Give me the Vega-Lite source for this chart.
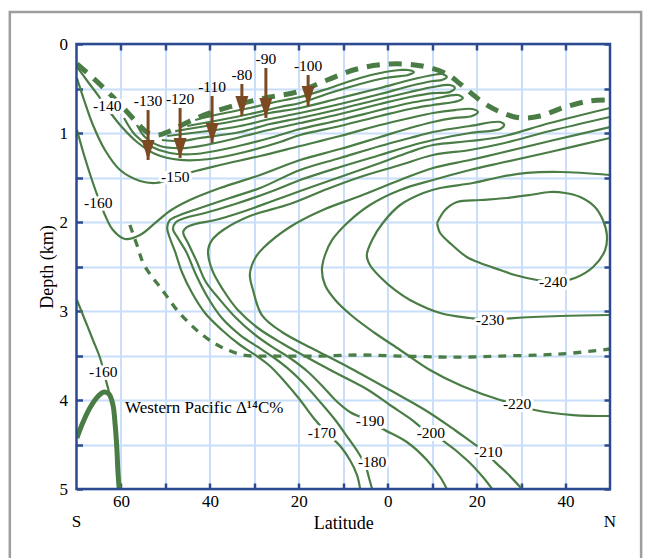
{
  "$schema": "https://vega.github.io/schema/vega-lite/v6.json",
  "width": 533.5,
  "height": 445,
  "autosize": "none",
  "padding": {"left": 76.5, "top": 44, "right": 40, "bottom": 69},
  "background": "white",
  "config": {"view": {"stroke": null}, "font": "Liberation Serif"},
  "datasets": {
    "contours": [
      {"c":"p1","x":-69.9,"y":0.258},{"c":"p1","x":-67.4,"y":0.427},{"c":"p1","x":-64.7,"y":0.607},{"c":"p1","x":-62.5,"y":0.764},{"c":"p1","x":-59.8,"y":0.933},{"c":"p1","x":-56.4,"y":1.101},{"c":"p1","x":-52.3,"y":1.236},{"c":"p1","x":-46.7,"y":1.303},{"c":"p1","x":-40.0,"y":1.292},{"c":"p1","x":-32.1,"y":1.213},{"c":"p1","x":-24.2,"y":1.101},{"c":"p1","x":-19.7,"y":1.022},{"c":"p1","x":-10.7,"y":0.921},{"c":"p1","x":-1.7,"y":0.809},{"c":"p1","x":5.0,"y":0.730},{"c":"p1","x":10.2,"y":0.685},{"c":"p1","x":15.8,"y":0.640},{"c":"p1","x":16.9,"y":0.607},{"c":"p1","x":15.8,"y":0.573},{"c":"p1","x":10.2,"y":0.618},{"c":"p1","x":5.0,"y":0.663},{"c":"p1","x":-1.7,"y":0.742},{"c":"p1","x":-10.7,"y":0.854},{"c":"p1","x":-19.7,"y":0.955},{"c":"p1","x":-26.5,"y":1.056},{"c":"p1","x":-35.5,"y":1.169},{"c":"p1","x":-43.3,"y":1.236},{"c":"p1","x":-49.0,"y":1.225},{"c":"p1","x":-53.5,"y":1.146},{"c":"p1","x":-56.8,"y":1.022},{"c":"p1","x":-59.3,"y":0.831},
      {"c":"p2","x":-56.4,"y":0.910},{"c":"p2","x":-54.6,"y":1.045},{"c":"p2","x":-51.2,"y":1.146},{"c":"p2","x":-45.6,"y":1.169},{"c":"p2","x":-37.7,"y":1.101},{"c":"p2","x":-28.7,"y":0.989},{"c":"p2","x":-19.7,"y":0.888},{"c":"p2","x":-10.7,"y":0.787},{"c":"p2","x":-1.7,"y":0.674},{"c":"p2","x":5.0,"y":0.596},{"c":"p2","x":10.2,"y":0.551},{"c":"p2","x":14.0,"y":0.539},{"c":"p2","x":15.1,"y":0.494},{"c":"p2","x":14.0,"y":0.461},{"c":"p2","x":10.2,"y":0.483},{"c":"p2","x":5.0,"y":0.539},{"c":"p2","x":-1.7,"y":0.618},{"c":"p2","x":-10.7,"y":0.730},{"c":"p2","x":-19.7,"y":0.831},{"c":"p2","x":-26.5,"y":0.899},{"c":"p2","x":-33.2,"y":0.989},{"c":"p2","x":-42.2,"y":1.056},{"c":"p2","x":-46.7,"y":1.090},{"c":"p2","x":-50.8,"y":1.079},
      {"c":"p3","x":-49.6,"y":1.034},{"c":"p3","x":-42.2,"y":0.989},{"c":"p3","x":-33.2,"y":0.921},{"c":"p3","x":-26.5,"y":0.843},{"c":"p3","x":-19.7,"y":0.775},{"c":"p3","x":-10.7,"y":0.674},{"c":"p3","x":-1.7,"y":0.562},{"c":"p3","x":5.0,"y":0.472},{"c":"p3","x":10.2,"y":0.416},{"c":"p3","x":12.2,"y":0.404},{"c":"p3","x":13.3,"y":0.371},{"c":"p3","x":12.2,"y":0.337},{"c":"p3","x":10.2,"y":0.348},{"c":"p3","x":5.0,"y":0.404},{"c":"p3","x":-1.7,"y":0.494},{"c":"p3","x":-10.7,"y":0.607},{"c":"p3","x":-19.7,"y":0.719},{"c":"p3","x":-26.5,"y":0.775},{"c":"p3","x":-33.2,"y":0.854},{"c":"p3","x":-42.2,"y":0.933},{"c":"p3","x":-47.8,"y":0.978},
      {"c":"p4","x":-45.1,"y":0.921},{"c":"p4","x":-37.7,"y":0.854},{"c":"p4","x":-31.0,"y":0.787},{"c":"p4","x":-24.2,"y":0.708},{"c":"p4","x":-19.7,"y":0.663},{"c":"p4","x":-13.0,"y":0.551},{"c":"p4","x":-6.2,"y":0.449},{"c":"p4","x":-0.6,"y":0.382},{"c":"p4","x":2.8,"y":0.360},{"c":"p4","x":4.6,"y":0.348},{"c":"p4","x":5.9,"y":0.315},{"c":"p4","x":4.6,"y":0.292},{"c":"p4","x":2.8,"y":0.292},{"c":"p4","x":-0.6,"y":0.315},{"c":"p4","x":-6.2,"y":0.382},{"c":"p4","x":-13.0,"y":0.494},{"c":"p4","x":-19.7,"y":0.596},{"c":"p4","x":-24.2,"y":0.640},{"c":"p4","x":-31.0,"y":0.719},{"c":"p4","x":-37.7,"y":0.787},{"c":"p4","x":-43.3,"y":0.854},
      {"c":"p5","x":-69.9,"y":0.382},{"c":"p5","x":-68.3,"y":0.629},{"c":"p5","x":-66.3,"y":0.910},{"c":"p5","x":-63.6,"y":1.191},{"c":"p5","x":-60.2,"y":1.416},{"c":"p5","x":-55.7,"y":1.539},{"c":"p5","x":-52.3,"y":1.562},{"c":"p5","x":-50.1,"y":1.539},{"c":"p5","x":-47.2,"y":1.494},{"c":"p5","x":-44.0,"y":1.438},{"c":"p5","x":-37.7,"y":1.360},{"c":"p5","x":-28.7,"y":1.258},{"c":"p5","x":-19.7,"y":1.146},{"c":"p5","x":-10.7,"y":1.034},{"c":"p5","x":-1.7,"y":0.910},{"c":"p5","x":5.0,"y":0.831},{"c":"p5","x":10.2,"y":0.775},{"c":"p5","x":15.1,"y":0.742},{"c":"p5","x":19.0,"y":0.730},{"c":"p5","x":20.3,"y":0.764},{"c":"p5","x":19.0,"y":0.809},{"c":"p5","x":15.1,"y":0.831},{"c":"p5","x":10.2,"y":0.876},{"c":"p5","x":5.0,"y":0.944},{"c":"p5","x":-1.7,"y":1.045},{"c":"p5","x":-10.7,"y":1.180},{"c":"p5","x":-19.7,"y":1.303},{"c":"p5","x":-28.7,"y":1.472},{"c":"p5","x":-37.7,"y":1.618},{"c":"p5","x":-44.5,"y":1.753},{"c":"p5","x":-49.0,"y":1.876},{"c":"p5","x":-52.3,"y":2.011},{"c":"p5","x":-55.7,"y":2.146},{"c":"p5","x":-59.1,"y":2.191},{"c":"p5","x":-61.8,"y":2.090},{"c":"p5","x":-63.6,"y":1.921},{"c":"p5","x":-65.1,"y":1.730},{"c":"p5","x":-66.3,"y":1.562},{"c":"p5","x":-68.1,"y":1.281},{"c":"p5","x":-69.9,"y":0.966},
      {"c":"p6","x":-6.2,"y":5.0},{"c":"p6","x":-6.9,"y":4.843},{"c":"p6","x":-8.5,"y":4.674},{"c":"p6","x":-10.7,"y":4.517},{"c":"p6","x":-13.0,"y":4.404},{"c":"p6","x":-16.3,"y":4.225},{"c":"p6","x":-19.7,"y":4.000},{"c":"p6","x":-23.1,"y":3.798},{"c":"p6","x":-26.5,"y":3.618},{"c":"p6","x":-29.8,"y":3.494},{"c":"p6","x":-33.2,"y":3.382},{"c":"p6","x":-37.3,"y":3.213},{"c":"p6","x":-41.1,"y":3.022},{"c":"p6","x":-44.0,"y":2.798},{"c":"p6","x":-46.3,"y":2.562},{"c":"p6","x":-47.8,"y":2.337},{"c":"p6","x":-49.0,"y":2.180},{"c":"p6","x":-49.6,"y":2.067},{"c":"p6","x":-49.0,"y":1.978},{"c":"p6","x":-46.7,"y":1.921},{"c":"p6","x":-42.2,"y":1.843},{"c":"p6","x":-35.5,"y":1.730},{"c":"p6","x":-28.7,"y":1.618},{"c":"p6","x":-19.7,"y":1.416},{"c":"p6","x":-10.7,"y":1.281},{"c":"p6","x":-1.7,"y":1.146},{"c":"p6","x":5.0,"y":1.056},{"c":"p6","x":10.2,"y":0.989},{"c":"p6","x":18.5,"y":0.921},{"c":"p6","x":25.3,"y":0.876},{"c":"p6","x":26.2,"y":0.910},{"c":"p6","x":25.3,"y":0.955},{"c":"p6","x":18.5,"y":1.000},{"c":"p6","x":10.2,"y":1.079},{"c":"p6","x":5.0,"y":1.146},{"c":"p6","x":-1.7,"y":1.247},{"c":"p6","x":-10.7,"y":1.382},{"c":"p6","x":-19.7,"y":1.528},{"c":"p6","x":-26.5,"y":1.663},{"c":"p6","x":-34.3,"y":1.798},{"c":"p6","x":-41.1,"y":1.899},{"c":"p6","x":-45.6,"y":1.955},{"c":"p6","x":-47.6,"y":2.000},{"c":"p6","x":-48.3,"y":2.079},{"c":"p6","x":-47.2,"y":2.180},{"c":"p6","x":-45.3,"y":2.337},{"c":"p6","x":-43.1,"y":2.596},{"c":"p6","x":-40.4,"y":2.854},{"c":"p6","x":-37.3,"y":3.079},{"c":"p6","x":-33.2,"y":3.270},{"c":"p6","x":-29.2,"y":3.404},{"c":"p6","x":-25.8,"y":3.517},{"c":"p6","x":-22.6,"y":3.640},{"c":"p6","x":-19.0,"y":3.809},{"c":"p6","x":-15.2,"y":4.022},{"c":"p6","x":-11.8,"y":4.225},{"c":"p6","x":-8.9,"y":4.427},{"c":"p6","x":-6.7,"y":4.584},{"c":"p6","x":-4.9,"y":4.753},{"c":"p6","x":-4.2,"y":4.876},{"c":"p6","x":-3.5,"y":5.0},
      {"c":"c190","x":13.3,"y":5.0},{"c":"c190","x":11.8,"y":4.865},{"c":"c190","x":8.8,"y":4.674},{"c":"c190","x":4.3,"y":4.472},{"c":"c190","x":-1.1,"y":4.326},{"c":"c190","x":-4.0,"y":4.236},{"c":"c190","x":-8.5,"y":4.135},{"c":"c190","x":-11.8,"y":4.000},{"c":"c190","x":-14.3,"y":3.865},{"c":"c190","x":-17.9,"y":3.685},{"c":"c190","x":-22.0,"y":3.528},{"c":"c190","x":-26.0,"y":3.404},{"c":"c190","x":-30.1,"y":3.258},{"c":"c190","x":-34.1,"y":3.079},{"c":"c190","x":-37.7,"y":2.876},{"c":"c190","x":-40.9,"y":2.674},{"c":"c190","x":-42.9,"y":2.449},{"c":"c190","x":-44.7,"y":2.258},{"c":"c190","x":-46.0,"y":2.112},{"c":"c190","x":-45.1,"y":2.056},{"c":"c190","x":-43.3,"y":2.022},{"c":"c190","x":-38.8,"y":1.978},{"c":"c190","x":-32.1,"y":1.876},{"c":"c190","x":-25.3,"y":1.753},{"c":"c190","x":-19.7,"y":1.652},{"c":"c190","x":-10.7,"y":1.494},{"c":"c190","x":-1.7,"y":1.337},{"c":"c190","x":5.0,"y":1.213},{"c":"c190","x":10.2,"y":1.135},{"c":"c190","x":18.5,"y":1.090},{"c":"c190","x":25.3,"y":1.045},{"c":"c190","x":36.5,"y":0.888},{"c":"c190","x":50.0,"y":0.719},
      {"c":"c200","x":23.5,"y":5.0},{"c":"c200","x":21.4,"y":4.865},{"c":"c200","x":17.8,"y":4.674},{"c":"c200","x":12.2,"y":4.449},{"c":"c200","x":9.7,"y":4.371},{"c":"c200","x":7.7,"y":4.315},{"c":"c200","x":5.5,"y":4.225},{"c":"c200","x":0.5,"y":4.056},{"c":"c200","x":-4.4,"y":3.888},{"c":"c200","x":-11.2,"y":3.708},{"c":"c200","x":-17.9,"y":3.528},{"c":"c200","x":-23.5,"y":3.371},{"c":"c200","x":-29.2,"y":3.191},{"c":"c200","x":-33.7,"y":2.989},{"c":"c200","x":-37.0,"y":2.764},{"c":"c200","x":-39.5,"y":2.539},{"c":"c200","x":-40.4,"y":2.315},{"c":"c200","x":-39.5,"y":2.202},{"c":"c200","x":-37.0,"y":2.090},{"c":"c200","x":-31.0,"y":1.933},{"c":"c200","x":-22.0,"y":1.798},{"c":"c200","x":-13.6,"y":1.629},{"c":"c200","x":-6.2,"y":1.494},{"c":"c200","x":2.8,"y":1.360},{"c":"c200","x":10.2,"y":1.247},{"c":"c200","x":18.5,"y":1.191},{"c":"c200","x":25.3,"y":1.124},{"c":"c200","x":36.5,"y":0.978},{"c":"c200","x":50.0,"y":0.820},
      {"c":"c210","x":30.2,"y":5.0},{"c":"c210","x":26.8,"y":4.820},{"c":"c210","x":23.7,"y":4.674},{"c":"c210","x":22.4,"y":4.584},{"c":"c210","x":20.1,"y":4.517},{"c":"c210","x":15.1,"y":4.337},{"c":"c210","x":8.4,"y":4.112},{"c":"c210","x":0.5,"y":3.888},{"c":"c210","x":-8.5,"y":3.640},{"c":"c210","x":-16.3,"y":3.438},{"c":"c210","x":-23.8,"y":3.236},{"c":"c210","x":-28.3,"y":3.045},{"c":"c210","x":-30.3,"y":2.764},{"c":"c210","x":-31.0,"y":2.584},{"c":"c210","x":-29.8,"y":2.404},{"c":"c210","x":-28.0,"y":2.292},{"c":"c210","x":-22.0,"y":2.056},{"c":"c210","x":-14.6,"y":1.865},{"c":"c210","x":-6.2,"y":1.708},{"c":"c210","x":2.8,"y":1.528},{"c":"c210","x":10.2,"y":1.393},{"c":"c210","x":18.5,"y":1.303},{"c":"c210","x":25.3,"y":1.225},{"c":"c210","x":36.5,"y":1.090},{"c":"c210","x":50.0,"y":0.933},
      {"c":"c220","x":50.0,"y":4.180},{"c":"c220","x":41.7,"y":4.169},{"c":"c220","x":33.1,"y":4.112},{"c":"c220","x":29.1,"y":4.045},{"c":"c220","x":25.3,"y":4.000},{"c":"c220","x":16.7,"y":3.843},{"c":"c220","x":9.5,"y":3.663},{"c":"c220","x":2.8,"y":3.438},{"c":"c220","x":-2.9,"y":3.247},{"c":"c220","x":-8.0,"y":3.056},{"c":"c220","x":-11.8,"y":2.876},{"c":"c220","x":-14.1,"y":2.708},{"c":"c220","x":-14.8,"y":2.539},{"c":"c220","x":-14.1,"y":2.371},{"c":"c220","x":-12.5,"y":2.202},{"c":"c220","x":-9.1,"y":2.011},{"c":"c220","x":-4.0,"y":1.809},{"c":"c220","x":2.8,"y":1.640},{"c":"c220","x":10.2,"y":1.528},{"c":"c220","x":18.5,"y":1.416},{"c":"c220","x":25.3,"y":1.337},{"c":"c220","x":36.5,"y":1.213},{"c":"c220","x":50.0,"y":1.056},
      {"c":"c230","x":50.0,"y":1.472},{"c":"c230","x":38.8,"y":1.438},{"c":"c230","x":31.3,"y":1.449},{"c":"c230","x":25.3,"y":1.494},{"c":"c230","x":19.2,"y":1.562},{"c":"c230","x":11.8,"y":1.618},{"c":"c230","x":8.0,"y":1.674},{"c":"c230","x":2.8,"y":1.809},{"c":"c230","x":-1.1,"y":2.011},{"c":"c230","x":-3.5,"y":2.202},{"c":"c230","x":-4.7,"y":2.371},{"c":"c230","x":-4.0,"y":2.483},{"c":"c230","x":-1.7,"y":2.618},{"c":"c230","x":1.6,"y":2.764},{"c":"c230","x":5.0,"y":2.876},{"c":"c230","x":11.8,"y":3.022},{"c":"c230","x":18.5,"y":3.079},{"c":"c230","x":23.0,"y":3.101},{"c":"c230","x":28.2,"y":3.079},{"c":"c230","x":38.8,"y":3.056},{"c":"c230","x":50.0,"y":3.045},
      {"c":"c240","x":11.1,"y":2.011},{"c":"c240","x":12.9,"y":1.865},{"c":"c240","x":15.6,"y":1.775},{"c":"c240","x":20.8,"y":1.753},{"c":"c240","x":26.8,"y":1.730},{"c":"c240","x":32.0,"y":1.697},{"c":"c240","x":36.5,"y":1.663},{"c":"c240","x":39.9,"y":1.674},{"c":"c240","x":43.3,"y":1.719},{"c":"c240","x":46.6,"y":1.831},{"c":"c240","x":48.4,"y":1.978},{"c":"c240","x":49.3,"y":2.146},{"c":"c240","x":48.9,"y":2.315},{"c":"c240","x":46.2,"y":2.506},{"c":"c240","x":42.1,"y":2.629},{"c":"c240","x":37.2,"y":2.674},{"c":"c240","x":33.6,"y":2.652},{"c":"c240","x":28.6,"y":2.596},{"c":"c240","x":25.3,"y":2.539},{"c":"c240","x":20.8,"y":2.461},{"c":"c240","x":17.8,"y":2.393},{"c":"c240","x":14.5,"y":2.258},{"c":"c240","x":11.8,"y":2.124},{"c":"c240","x":11.1,"y":2.011},
      {"c":"c160b","x":-69.9,"y":2.876},{"c":"c160b","x":-68.1,"y":3.101},{"c":"c160b","x":-66.3,"y":3.326},{"c":"c160b","x":-64.7,"y":3.528},{"c":"c160b","x":-63.4,"y":3.775},{"c":"c160b","x":-62.5,"y":3.944}
    ],
    "thickDash": [
      {"x":-69.9,"y":0.225},{"x":-65.8,"y":0.404},{"x":-61.8,"y":0.596},{"x":-58.4,"y":0.775},{"x":-55.7,"y":0.921},{"x":-53.9,"y":1.000},{"x":-51.7,"y":1.022},{"x":-49.0,"y":0.978},{"x":-44.9,"y":0.876},{"x":-40.0,"y":0.775},{"x":-33.2,"y":0.674},{"x":-26.5,"y":0.596},{"x":-20.4,"y":0.539},{"x":-13.6,"y":0.404},{"x":-6.9,"y":0.281},{"x":0.5,"y":0.225},{"x":7.7,"y":0.247},{"x":13.3,"y":0.337},{"x":16.3,"y":0.449},{"x":19.0,"y":0.562},{"x":21.9,"y":0.674},{"x":25.3,"y":0.764},{"x":29.8,"y":0.831},{"x":34.3,"y":0.809},{"x":39.9,"y":0.708},{"x":45.5,"y":0.640},{"x":50.0,"y":0.629}
    ],
    "thinDash": [
      {"x":-58.0,"y":2.034},{"x":-56.4,"y":2.258},{"x":-55.0,"y":2.461},{"x":-53.0,"y":2.618},{"x":-51.2,"y":2.730},{"x":-49.4,"y":2.854},{"x":-47.4,"y":2.989},{"x":-44.9,"y":3.124},{"x":-42.2,"y":3.247},{"x":-38.3,"y":3.382},{"x":-32.5,"y":3.494},{"x":-24.9,"y":3.506},{"x":-15.2,"y":3.506},{"x":-6.2,"y":3.494},{"x":2.8,"y":3.506},{"x":11.8,"y":3.517},{"x":18.5,"y":3.517},{"x":25.3,"y":3.506},{"x":34.3,"y":3.494},{"x":41.7,"y":3.472},{"x":50.0,"y":3.427}
    ],
    "bold": [
      {"x":-69.9,"y":4.427},{"x":-68.8,"y":4.281},{"x":-67.0,"y":4.090},{"x":-65.1,"y":3.955},{"x":-63.8,"y":3.910},{"x":-62.7,"y":3.933},{"x":-61.8,"y":4.056},{"x":-61.3,"y":4.281},{"x":-60.9,"y":4.562},{"x":-60.7,"y":4.787},{"x":-60.4,"y":5.0}
    ],
    "levels": [
      {"t":"-140","x":-63.1,"y":0.697},{"t":"-150","x":-47.8,"y":1.494},{"t":"-160","x":-65.1,"y":1.787},{"t":"-160","x":-64.0,"y":3.685},
      {"t":"-170","x":-14.8,"y":4.371},{"t":"-180","x":-3.5,"y":4.697},{"t":"-190","x":-4.0,"y":4.236},{"t":"-200","x":9.7,"y":4.371},
      {"t":"-210","x":22.6,"y":4.584},{"t":"-220","x":29.1,"y":4.045},{"t":"-230","x":23.0,"y":3.101},{"t":"-240","x":37.2,"y":2.674}
    ],
    "arrows": [
      {"t":"-130","x":-53.9,"top":0.742,"tip":1.303},
      {"t":"-120","x":-46.7,"top":0.719,"tip":1.281},
      {"t":"-110","x":-39.5,"top":0.584,"tip":1.112},
      {"t":"-80","x":-32.8,"top":0.449,"tip":0.809},
      {"t":"-90","x":-27.4,"top":0.270,"tip":0.831},
      {"t":"-100","x":-17.9,"top":0.348,"tip":0.697}
    ]
  },
  "resolve": {"axis": {"x": "independent", "y": "independent"}},
  "layer": [
    {
      "data": {"name": "contours"},
      "mark": {"type": "line", "stroke": "#4a7d45", "strokeWidth": 2.2, "clip": true, "interpolate": "catmull-rom"},
      "encoding": {
        "x": {"field": "x", "type": "quantitative", "scale": {"domain": [-70, 50], "nice": false, "zero": false},
          "axis": {"orient": "bottom", "values": [-60,-50,-40,-30,-20,-10,0,10,20,30,40],
            "labelExpr": "datum.value % 20 === 0 ? format(abs(datum.value), 'd') : ''",
            "labelOverlap": false, "labelFlush": false, "title": "Latitude", "domain": false,
            "grid": true, "gridColor": "#c8defa", "gridWidth": 2,
            "ticks": true, "tickColor": "#2c4a8f", "tickWidth": 2.5, "tickSize": -6,
            "labelPadding": 10, "labelFont": "Liberation Serif", "labelFontSize": 17, "labelColor": "#000",
            "titleFont": "Liberation Serif", "titleFontSize": 18, "titleFontWeight": "normal", "titleColor": "#000", "titlePadding": 5}},
        "y": {"field": "y", "type": "quantitative", "scale": {"domain": [0, 5], "reverse": true, "nice": false, "zero": false},
          "axis": {"orient": "left", "values": [0,0.5,1,1.5,2,2.5,3,3.5,4,4.5,5],
            "labelExpr": "datum.value % 1 === 0 ? format(datum.value, 'd') : ''",
            "labelOverlap": false, "labelFlush": false, "title": "Depth (km)", "domain": false,
            "grid": true, "gridColor": "#c8defa", "gridWidth": 2,
            "ticks": true, "tickColor": "#2c4a8f", "tickWidth": 2.5, "tickSize": -6,
            "labelPadding": 15, "labelFont": "Liberation Serif", "labelFontSize": 17, "labelColor": "#000",
            "titleFont": "Liberation Serif", "titleFontSize": 18, "titleFontWeight": "normal", "titleColor": "#000", "titlePadding": 3}},
        "detail": {"field": "c"},
        "order": {"value": null}
      }
    },
    {
      "data": {"name": "thickDash"},
      "mark": {"type": "line", "stroke": "#4a7d45", "strokeWidth": 5, "strokeDash": [13, 9], "clip": true, "interpolate": "catmull-rom"},
      "encoding": {
        "x": {"field": "x", "type": "quantitative", "scale": {"domain": [-70, 50], "nice": false, "zero": false}, "axis": null},
        "y": {"field": "y", "type": "quantitative", "scale": {"domain": [0, 5], "reverse": true, "nice": false, "zero": false}, "axis": null},
        "order": {"value": null}
      }
    },
    {
      "data": {"name": "thinDash"},
      "mark": {"type": "line", "stroke": "#4a7d45", "strokeWidth": 3.3, "strokeDash": [8, 7], "clip": true, "interpolate": "catmull-rom"},
      "encoding": {
        "x": {"field": "x", "type": "quantitative", "scale": {"domain": [-70, 50], "nice": false, "zero": false}, "axis": null},
        "y": {"field": "y", "type": "quantitative", "scale": {"domain": [0, 5], "reverse": true, "nice": false, "zero": false}, "axis": null},
        "order": {"value": null}
      }
    },
    {
      "data": {"name": "bold"},
      "mark": {"type": "line", "stroke": "#4a7d45", "strokeWidth": 5, "clip": true, "interpolate": "catmull-rom"},
      "encoding": {
        "x": {"field": "x", "type": "quantitative", "scale": {"domain": [-70, 50], "nice": false, "zero": false}, "axis": null},
        "y": {"field": "y", "type": "quantitative", "scale": {"domain": [0, 5], "reverse": true, "nice": false, "zero": false}, "axis": null},
        "order": {"value": null}
      }
    },
    {
      "data": {"values": [{}]},
      "mark": {"type": "rect", "fill": "transparent", "stroke": "#2c4a8f", "strokeWidth": 2.5, "clip": false},
      "encoding": {
        "x": {"datum": -70, "type": "quantitative", "scale": {"domain": [-70, 50], "nice": false, "zero": false}, "axis": null},
        "x2": {"datum": 50},
        "y": {"datum": 0, "type": "quantitative", "scale": {"domain": [0, 5], "reverse": true, "nice": false, "zero": false}, "axis": null},
        "y2": {"datum": 5}
      }
    },
    {
      "data": {"name": "arrows"},
      "mark": {"type": "rule", "stroke": "#7b4a22", "strokeWidth": 3},
      "encoding": {
        "x": {"field": "x", "type": "quantitative", "scale": {"domain": [-70, 50], "nice": false, "zero": false},
          "axis": {"orient": "top", "values": [-60,-50,-40,-30,-20,-10,0,10,20,30,40], "labels": false, "title": null,
            "domain": false, "grid": false, "tickColor": "#2c4a8f", "tickWidth": 2.5, "tickSize": -6}},
        "y": {"field": "top", "type": "quantitative", "scale": {"domain": [0, 5], "reverse": true, "nice": false, "zero": false},
          "axis": {"orient": "right", "values": [0,0.5,1,1.5,2,2.5,3,3.5,4,4.5,5], "labels": false, "title": null,
            "domain": false, "grid": false, "tickColor": "#2c4a8f", "tickWidth": 2.5, "tickSize": -6}},
        "y2": {"field": "tip"}
      }
    },
    {
      "data": {"name": "arrows"},
      "mark": {"type": "point", "shape": "M-0.65,-1L0.65,-1L0,1Z", "size": 400, "filled": true, "fill": "#7b4a22", "opacity": 1, "strokeWidth": 0, "yOffset": -10},
      "encoding": {
        "x": {"field": "x", "type": "quantitative", "scale": {"domain": [-70, 50], "nice": false, "zero": false}, "axis": null},
        "y": {"field": "tip", "type": "quantitative", "scale": {"domain": [0, 5], "reverse": true, "nice": false, "zero": false}, "axis": null}
      }
    },
    {
      "data": {"name": "levels"},
      "mark": {"type": "text", "font": "Liberation Serif", "fontSize": 15.5, "fill": "white", "stroke": "white", "strokeWidth": 6, "strokeJoin": "round"},
      "encoding": {
        "x": {"field": "x", "type": "quantitative", "scale": {"domain": [-70, 50], "nice": false, "zero": false}, "axis": null},
        "y": {"field": "y", "type": "quantitative", "scale": {"domain": [0, 5], "reverse": true, "nice": false, "zero": false}, "axis": null},
        "text": {"field": "t"}
      }
    },
    {
      "data": {"name": "levels"},
      "mark": {"type": "text", "font": "Liberation Serif", "fontSize": 15.5, "fill": "#000"},
      "encoding": {
        "x": {"field": "x", "type": "quantitative", "scale": {"domain": [-70, 50], "nice": false, "zero": false}, "axis": null},
        "y": {"field": "y", "type": "quantitative", "scale": {"domain": [0, 5], "reverse": true, "nice": false, "zero": false}, "axis": null},
        "text": {"field": "t"}
      }
    },
    {
      "data": {"name": "arrows"},
      "mark": {"type": "text", "font": "Liberation Serif", "fontSize": 15.5, "fill": "#000", "baseline": "bottom", "dy": -1},
      "encoding": {
        "x": {"field": "x", "type": "quantitative", "scale": {"domain": [-70, 50], "nice": false, "zero": false}, "axis": null},
        "y": {"field": "top", "type": "quantitative", "scale": {"domain": [0, 5], "reverse": true, "nice": false, "zero": false}, "axis": null},
        "text": {"field": "t"}
      }
    },
    {
      "data": {"values": [{"t": "Western Pacific Δ¹⁴C%", "x": -59.1, "y": 4.09}]},
      "mark": {"type": "text", "font": "Liberation Serif", "fontSize": 17, "fill": "#000", "align": "left"},
      "encoding": {
        "x": {"field": "x", "type": "quantitative", "scale": {"domain": [-70, 50], "nice": false, "zero": false}, "axis": null},
        "y": {"field": "y", "type": "quantitative", "scale": {"domain": [0, 5], "reverse": true, "nice": false, "zero": false}, "axis": null},
        "text": {"field": "t"}
      }
    },
    {
      "data": {"values": [{"t": "S", "x": -70, "y": 5.37}, {"t": "N", "x": 50, "y": 5.37}]},
      "mark": {"type": "text", "font": "Liberation Serif", "fontSize": 17, "fill": "#000", "clip": false},
      "encoding": {
        "x": {"field": "x", "type": "quantitative", "scale": {"domain": [-70, 50], "nice": false, "zero": false}, "axis": null},
        "y": {"field": "y", "type": "quantitative", "scale": {"domain": [0, 5], "reverse": true, "nice": false, "zero": false}, "axis": null},
        "text": {"field": "t"}
      }
    },
    {
      "data": {"values": [{}]},
      "mark": {"type": "rect", "fill": "transparent", "stroke": "#9d9d9d", "strokeWidth": 2.5, "clip": false},
      "encoding": {
        "x": {"datum": -85, "type": "quantitative", "scale": {"domain": [-70, 50], "nice": false, "zero": false}, "axis": null},
        "x2": {"datum": 57},
        "y": {"datum": -0.36, "type": "quantitative", "scale": {"domain": [0, 5], "reverse": true, "nice": false, "zero": false}, "axis": null},
        "y2": {"datum": 5.95}
      }
    }
  ]
}
